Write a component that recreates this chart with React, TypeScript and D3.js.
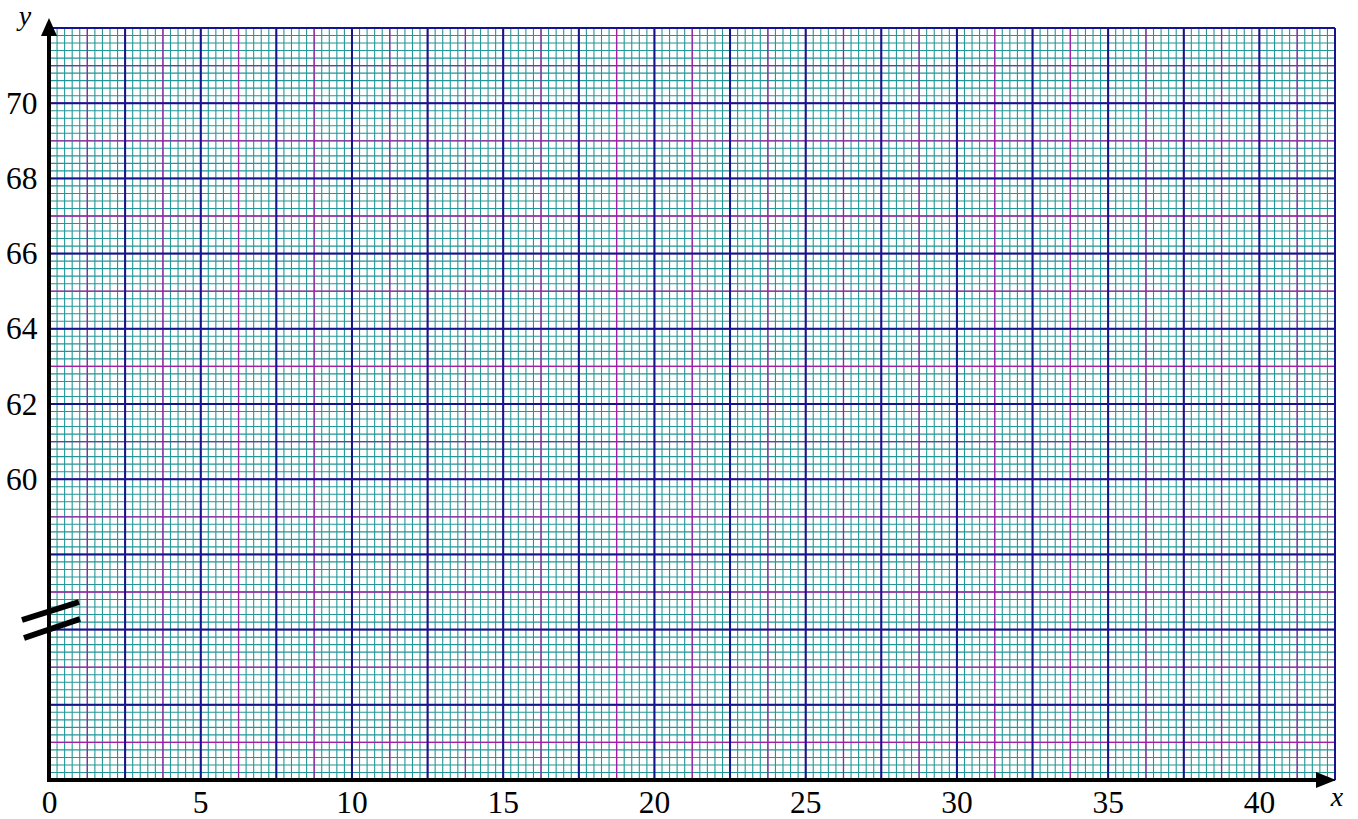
import React from "react";
import * as d3 from "d3";

const xTickLabels = [0, 5, 10, 15, 20, 25, 30, 35, 40];
const yTickLabels = [60, 62, 64, 66, 68, 70];
const xDomain = [0, 42.5];
const yDomain = [52, 72];
const xMinorStep = 0.25;
const xMidStep = 1.25;
const xMajorStep = 2.5;
const yMinorStep = 0.2;
const yMidStep = 1;
const yMajorStep = 2;

const W = 1358;
const H = 819;

export default function App() {
  const x = d3.scaleLinear().domain(xDomain).range([49.5, 1335]);
  const y = d3.scaleLinear().domain(yDomain).range([780, 28]);

  const nxMinor = Math.round((xDomain[1] - xDomain[0]) / xMinorStep);
  const nyMinor = Math.round((yDomain[1] - yDomain[0]) / yMinorStep);
  const xMinor = d3.range(nxMinor + 1).map((i) => xDomain[0] + i * xMinorStep);
  const yMinor = d3.range(nyMinor + 1).map((i) => yDomain[0] + i * yMinorStep);
  const nxMid = Math.round((xDomain[1] - xDomain[0]) / xMidStep);
  const nyMid = Math.round((yDomain[1] - yDomain[0]) / yMidStep);
  const xMid = d3.range(nxMid + 1).map((i) => xDomain[0] + i * xMidStep);
  const yMid = d3.range(nyMid + 1).map((i) => yDomain[0] + i * yMidStep);
  const nxMaj = Math.round((xDomain[1] - xDomain[0]) / xMajorStep);
  const nyMaj = Math.round((yDomain[1] - yDomain[0]) / yMajorStep);
  const xMaj = d3.range(nxMaj + 1).map((i) => xDomain[0] + i * xMajorStep);
  const yMaj = d3.range(nyMaj + 1).map((i) => yDomain[0] + i * yMajorStep);

  const x0 = x(xDomain[0]);
  const x1 = x(xDomain[1]);
  const y0 = y(yDomain[0]);
  const y1 = y(yDomain[1]);

  const teal = "#239696";
  const magenta = "#a11ea5";
  const navy = "#14148c";
  const font = "Liberation Serif";

  return (
    <svg
      width={W}
      height={H}
      style={{ position: "absolute", left: 0, top: 0, background: "#fff" }}
    >
      <rect x={0} y={0} width={W} height={H} fill="#fff" />
      <g stroke={teal} strokeWidth={1.1}>
        {xMinor.map((v, i) => (
          <line key={"xm" + i} x1={x(v)} x2={x(v)} y1={y0} y2={y1} />
        ))}
        {yMinor.map((v, i) => (
          <line key={"ym" + i} x1={x0} x2={x1} y1={y(v)} y2={y(v)} />
        ))}
      </g>
      <g stroke={magenta} strokeWidth={1.3}>
        {xMid.map((v, i) => (
          <line key={"xd" + i} x1={x(v)} x2={x(v)} y1={y0} y2={y1} />
        ))}
        {yMid.map((v, i) => (
          <line key={"yd" + i} x1={x0} x2={x1} y1={y(v)} y2={y(v)} />
        ))}
      </g>
      <g stroke={navy} strokeWidth={2}>
        {xMaj.map((v, i) => (
          <line key={"xM" + i} x1={x(v)} x2={x(v)} y1={y0} y2={y1} />
        ))}
        {yMaj.map((v, i) => (
          <line key={"yM" + i} x1={x0} x2={x1} y1={y(v)} y2={y(v)} />
        ))}
      </g>

      {/* axes */}
      <line x1={x0 - 0.5} x2={x0 - 0.5} y1={y0 + 2} y2={34} stroke="#000" strokeWidth={4} />
      <polygon points={`${x0 - 0.5},18 ${x0 - 8.5},36 ${x0 + 7.5},36`} fill="#000" />
      <line x1={x0 - 2.5} x2={1318} y1={y0} y2={y0} stroke="#000" strokeWidth={4} />
      <polygon points={`1336,${y0} 1316,${y0 - 8} 1316,${y0 + 8}`} fill="#000" />

      {/* axis break */}
      <g stroke="#000" strokeWidth={6}>
        <line x1={22} y1={620} x2={79} y2={602} />
        <line x1={24} y1={638} x2={80} y2={619} />
      </g>

      {/* tick labels */}
      <g fontFamily={font} fontSize={31.5} fill="#000">
        {yTickLabels.map((v) => (
          <text key={"yl" + v} x={37.5} y={y(v) + 10.5} textAnchor="end">
            {v}
          </text>
        ))}
        {xTickLabels.map((v) => (
          <text key={"xl" + v} x={x(v)} y={813} textAnchor="middle">
            {v}
          </text>
        ))}
        <text x={25} y={25} fontSize={28} textAnchor="middle" fontStyle="italic">
          y
        </text>
        <text x={1337} y={806} fontSize={28} textAnchor="middle" fontStyle="italic">
          x
        </text>
      </g>
    </svg>
  );
}
